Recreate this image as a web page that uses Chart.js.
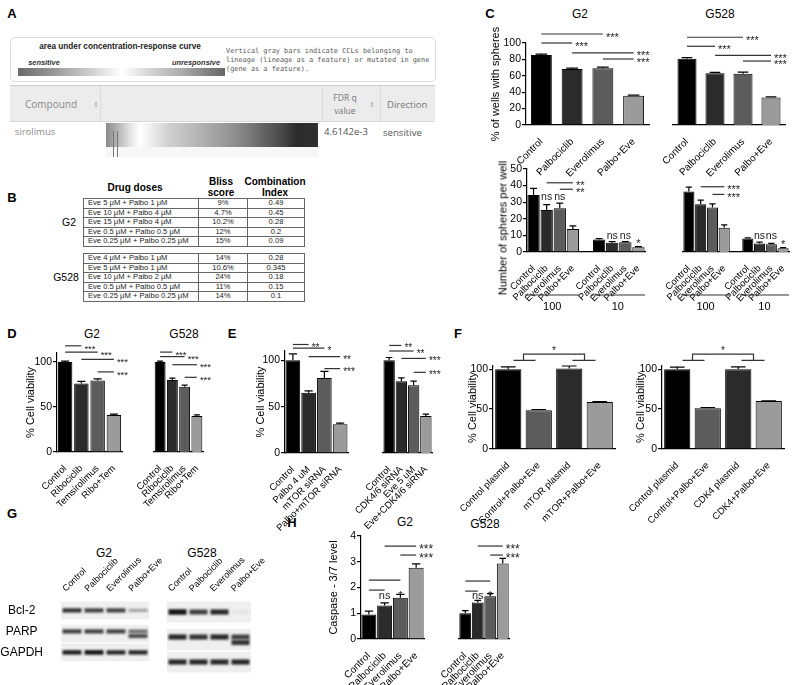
<!DOCTYPE html>
<html><head><meta charset="utf-8">
<script src="https://cdn.jsdelivr.net/npm/chart.js@4.4.1/dist/chart.umd.min.js"></script>
<style>
body{margin:0;background:#fff;width:800px;height:685px;overflow:hidden;position:relative;font-family:'Liberation Sans',Arial,Helvetica,sans-serif;color:#000}
.t{position:absolute;transform:translate(-50%,-50%);white-space:nowrap;line-height:1}
.abs{position:absolute}
.bt{position:absolute;left:83px;border-collapse:collapse;table-layout:fixed;width:222px;font-size:7.6px;color:#222}
.bt td{border:1px solid #666;height:8.6px;line-height:8.6px;padding:0;text-align:center;white-space:nowrap;overflow:hidden}
.bt td.l{text-align:left;padding-left:4px}
canvas{position:absolute}
</style></head><body>
<script>
// ---------------- DATA ----------------
// Panel A
const compoundName = 'sirolimus';
const fdrValue = '4.6142e-3';
const directionValue = 'sensitive';
// Panel B
const bG2Doses = ['Eve 5 μM + Palbo 1 μM','Eve 10 μM + Palbo 4 μM','Eve 15 μM + Palbo 4 μM','Eve 0.5 μM + Palbo 0.5 μM','Eve 0.25 μM + Palbo 0.25 μM'];
const bG2Bliss = ['9%','4.7%','10.2%','12%','15%'];
const bG2CI = ['0.49','0.45','0.28','0.2','0.09'];
const bG528Doses = ['Eve 4 μM + Palbo 1 μM','Eve 5 μM + Palbo 1 μM','Eve 10 μM + Palbo 2 μM','Eve 0.5 μM + Palbo 0.5 μM','Eve 0.25 μM + Palbo 0.25 μM'];
const bG528Bliss = ['14%','10.6%','24%','11%','14%'];
const bG528CI = ['0.28','0.345','0.18','0.15','0.1'];
// Panel C
const drugCats = ['Control','Palbociclib','Everolimus','Palbo+Eve'];
const cTopG2 = [85.4, 68.3, 69.3, 35.6];
const cTopG2Err = [1.0, 1.0, 1.4, 0.9];
const cTopG528 = [80.8, 63.2, 62.4, 33.6];
const cTopG528Err = [1.4, 1.0, 2.2, 0.8];
const cLowCats = ['Control','Palbociclib','Everolimus','Palbo+Eve','','Control','Palbociclib','Everolimus','Palbo+Eve'];
const cLowG2 = [34.3, 25.3, 26.3, 13.9, null, 7.6, 5.6, 5.8, 2.8];
const cLowG2Err = [4.0, 3.2, 3.2, 1.8, null, 0.5, 0.6, 0.4, 0.4];
const cLowG528 = [36.4, 28.8, 26.8, 14.6, null, 8.1, 5.1, 4.7, 2.2];
const cLowG528Err = [2.7, 2.4, 2.2, 1.8, null, 0.4, 0.9, 0.5, 0.4];
const sphereGroups = ['100','10'];
// Panel D
const dCats = ['Control','Ribociclib','Temsirolimus','Ribo+Tem'];
const dG2 = [100, 76, 79.5, 41];
const dG2Err = [1, 2.5, 1.8, 1];
const dG528 = [100, 80, 72.5, 40];
const dG528Err = [1, 2, 1.8, 1.3];
// Panel E
const eCats1 = ['Control','Palbo 4 uM','mTOR siRNA','Palbo+mTOR siRNA'];
const eVals1 = [100, 65, 81, 31];
const eErr1 = [7, 2, 7, 1.2];
const eCats2 = ['Control','CDK4/6 siRNA','Eve 5 uM','Eve+CDK4/6 siRNA'];
const eVals2 = [100, 77.5, 73, 40];
const eErr2 = [3, 3.5, 4.5, 2];
// Panel F
const fCats1 = ['Control plasmid','Control+Palbo+Eve','mTOR plasmid','mTOR+Palbo+Eve'];
const fVals1 = [100, 48.5, 101, 59];
const fErr1 = [3, 1, 3, 0.5];
const fCats2 = ['Control plasmid','Control+Palbo+Eve','CDK4 plasmid','CDK4+Palbo+Eve'];
const fVals2 = [100, 51, 100, 60];
const fErr2 = [2.5, 1, 3, 0.3];
// Panel G (band intensities, 0..1)
const blotRows = ['Bcl-2','PARP','GAPDH'];
const bcl2G2 = [0.85, 0.8, 0.8, 0.35];
const bcl2G528 = [1.0, 0.8, 0.9, 0.05];
const parpG2 = [0.8, 0.8, 0.8, 0.6];
const parpG528 = [0.9, 0.85, 0.9, 0.8];
const cleavedG2 = [0, 0, 0, 0.75];
const cleavedG528 = [0, 0, 0, 0.85];
const gapdhG2 = [0.95, 1, 0.9, 0.9];
const gapdhG528 = [0.9, 0.9, 0.9, 0.9];
// Panel H
const hG2 = [0.95, 1.3, 1.6, 2.77];
const hG2Err = [0.13, 0.1, 0.13, 0.15];
const hG528 = [1.0, 1.42, 1.66, 2.93];
const hG528Err = [0.1, 0.08, 0.1, 0.2];

// ---------------- HELPERS ----------------
const FF = "'Liberation Sans', Arial, Helvetica, sans-serif";
Chart.defaults.font.family = FF;
Chart.defaults.color = '#000';
Chart.defaults.animation = false;

const K0 = '#000000', K1 = '#2b2b2b', K2 = '#5c5c5c', K3 = '#9b9b9b';
const EXL = 70;

function T(x, y, s, css) {
  const d = document.createElement('div');
  d.className = 't'; d.textContent = s;
  d.style.left = x + 'px'; d.style.top = y + 'px';
  if (css) d.style.cssText += css;
  document.body.appendChild(d); return d;
}
function box(css, html) {
  const d = document.createElement('div'); d.className = 'abs'; d.style.cssText = css;
  if (html) d.innerHTML = html; document.body.appendChild(d); return d;
}
function canvasAt(L, Tp, W, H) {
  const cv = document.createElement('canvas');
  cv.width = W; cv.height = H;
  cv.style.left = L + 'px'; cv.style.top = Tp + 'px';
  cv.style.width = W + 'px'; cv.style.height = H + 'px';
  document.body.appendChild(cv); return cv;
}

const errPlugin = {
  id: 'err',
  afterDatasetsDraw(chart) {
    const ctx = chart.ctx, ys = chart.scales.y;
    chart.data.datasets.forEach((ds, di) => {
      if (!ds.errs) return;
      const meta = chart.getDatasetMeta(di);
      meta.data.forEach((bar, i) => {
        const v = ds.data[i], e = ds.errs[i];
        if (v == null || e == null) return;
        const yt = ys.getPixelForValue(v + e), yb = ys.getPixelForValue(v);
        const hw = bar.width * 0.28;
        ctx.save(); ctx.strokeStyle = '#000'; ctx.lineWidth = 1.2; ctx.beginPath();
        ctx.moveTo(bar.x, yb); ctx.lineTo(bar.x, yt);
        ctx.moveTo(bar.x - hw, yt); ctx.lineTo(bar.x + hw, yt);
        ctx.stroke(); ctx.restore();
      });
    });
  }
};

function txtOff(t, size) { return size * (t.indexOf('*') >= 0 ? 0.6 : 0.28); }

function sigPlugin(lines, texts, size) {
  return {
    id: 'sig',
    afterDraw(chart) {
      const ctx = chart.ctx, xs = chart.scales.x, ys = chart.scales.y;
      ctx.save(); ctx.strokeStyle = '#333'; ctx.lineWidth = 1.2; ctx.fillStyle = '#222';
      ctx.textBaseline = 'alphabetic';
      lines.forEach(([a, b, v, t]) => {
        const xa = xs.getPixelForValue(a), xb = xs.getPixelForValue(b), y = ys.getPixelForValue(v);
        ctx.beginPath(); ctx.moveTo(xa, y); ctx.lineTo(xb, y); ctx.stroke();
        if (t) { ctx.font = size + 'px ' + FF; ctx.textAlign = 'left'; ctx.fillText(t, xb + 3, y + txtOff(t, size)); }
      });
      (texts || []).forEach(([i, v, t, s]) => {
        const sz = s || size;
        ctx.font = sz + 'px ' + FF; ctx.textAlign = 'center';
        ctx.fillText(t, xs.getPixelForValue(i), ys.getPixelForValue(v) + txtOff(t, sz));
      });
      ctx.restore();
    }
  };
}

function groupsPlugin(groups) {
  return {
    id: 'grp',
    afterDraw(chart) {
      const ctx = chart.ctx, xs = chart.scales.x, ca = chart.chartArea;
      const w = xs.getPixelForValue(1) - xs.getPixelForValue(0);
      ctx.save(); ctx.strokeStyle = '#333'; ctx.lineWidth = 1.2; ctx.fillStyle = '#000';
      ctx.font = '11px ' + FF; ctx.textAlign = 'center'; ctx.textBaseline = 'middle';
      groups.forEach(([a, b, t]) => {
        const xa = xs.getPixelForValue(a) - w / 2 - 2, xb = xs.getPixelForValue(b) + w / 2;
        const y = ca.bottom + 43;
        ctx.beginPath(); ctx.moveTo(xa, y); ctx.lineTo(xb, y); ctx.stroke();
        ctx.fillText(t, (xa + xb) / 2, y + 12);
      });
      ctx.restore();
    }
  };
}

function bracketPlugin(vLow, vHigh, vStar, label) {
  return {
    id: 'brk',
    afterDraw(chart) {
      const ctx = chart.ctx, xs = chart.scales.x, ys = chart.scales.y;
      const m1 = (xs.getPixelForValue(0) + xs.getPixelForValue(1)) / 2;
      const m2 = (xs.getPixelForValue(2) + xs.getPixelForValue(3)) / 2;
      const yl = ys.getPixelForValue(vLow), yh = ys.getPixelForValue(vHigh), yS = ys.getPixelForValue(vStar);
      ctx.save(); ctx.strokeStyle = '#333'; ctx.lineWidth = 1.2; ctx.beginPath();
      ctx.moveTo(m1 - 10, yl); ctx.lineTo(m1 + 12, yl);
      ctx.moveTo(m2 - 12, yl); ctx.lineTo(m2 + 11, yl);
      ctx.moveTo(m1, yl); ctx.lineTo(m1, yh); ctx.lineTo(m2, yh); ctx.lineTo(m2, yl);
      ctx.stroke();
      ctx.fillStyle = '#222'; ctx.font = '10px ' + FF; ctx.textAlign = 'center';
      ctx.fillText(label, (m1 + m2) / 2, yS + txtOff(label, 10));
      ctx.restore();
    }
  };
}

function bars(o) {
  const [x0, y0, x1, y1] = o.plot, m = o.m;
  const L = Math.round(x0 - m.l) - EXL, Tp = Math.round(y0 - m.t);
  const W = Math.round(x1 - x0) + m.l + m.r + EXL, H = Math.round(y1 - y0) + m.t + m.b;
  const cv = canvasAt(L, Tp, W, H);
  return new Chart(cv, {
    type: 'bar',
    data: { labels: o.labels, datasets: [{ data: o.values, errs: o.errs, backgroundColor: o.colors,
      borderColor: '#000', borderWidth: 1, barPercentage: o.barPct, categoryPercentage: 1 }] },
    options: {
      responsive: false, maintainAspectRatio: false, animation: false, devicePixelRatio: 1,
      layout: { padding: { left: (o.showY ? 0 : m.l) + EXL, right: m.r, top: m.t, bottom: 0 } },
      scales: {
        x: {
          grid: { display: false }, border: { display: true, color: '#000', width: 1.2 },
          ticks: { autoSkip: false, minRotation: 45, maxRotation: 45, padding: 3, font: { size: o.xFont || 10 }, color: '#000' },
          afterFit: s => { s.height = m.b; }
        },
        y: {
          display: !!o.showY, min: 0, max: o.yMax,
          grid: { display: true, drawOnChartArea: false, drawTicks: true, tickLength: 4, color: '#000', lineWidth: 1.2 },
          border: { display: true, color: '#000', width: 1.2 },
          ticks: { stepSize: o.yStep, includeBounds: false, font: { size: 10.5 }, color: '#000', padding: 1 },
          title: { display: !!o.yTitle, text: o.yTitle || '', font: { size: 11 }, padding: { top: 0, bottom: 0 }, color: '#000' },
          afterFit: s => { s.width = m.l; }
        }
      },
      plugins: { legend: { display: false }, tooltip: { enabled: false } }
    },
    plugins: [errPlugin].concat(o.plugins || [])
  });
}

function blot(o) {
  const [x0, y0, x1, y1] = o.plot, m = o.m;
  const L = Math.round(x0 - m.l), Tp = Math.round(y0 - m.t);
  const W = Math.round(x1 - x0) + m.l + m.r, H = Math.round(y1 - y0) + m.t + m.b;
  const cv = canvasAt(L, Tp, W, H);
  const rowPos = [0, 1, 1.22, 2];
  const sets = [o.bcl2, o.parp, o.cleaved, o.gapdh].map((arr, k) => ({
    data: arr.map(a => a > 0 ? [rowPos[k] - (0.06 + 0.05 * a), rowPos[k] + (0.06 + 0.05 * a)] : null),
    backgroundColor: arr.map(a => 'rgba(20,20,20,' + Math.min(1, a) + ')'),
    borderWidth: 0, grouped: false, barPercentage: 0.86, categoryPercentage: 1
  }));
  const bgPlugin = {
    id: 'blotbg',
    beforeDatasetsDraw(chart) {
      const ctx = chart.ctx, ca = chart.chartArea, ys = chart.scales.y;
      ctx.save(); ctx.fillStyle = '#efefef';
      [0, 1.1, 2].forEach(r => {
        const a = ys.getPixelForValue(r - 0.42), b = ys.getPixelForValue(r + 0.42);
        ctx.fillRect(ca.left, a, ca.right - ca.left, b - a);
      });
      ctx.restore();
      ctx.save(); ctx.filter = 'blur(0.9px)';
    },
    afterDatasetsDraw(chart) { chart.ctx.restore(); }
  };
  return new Chart(cv, {
    type: 'bar',
    data: { labels: o.lanes, datasets: sets },
    options: {
      responsive: false, maintainAspectRatio: false, animation: false, devicePixelRatio: 1,
      layout: { padding: { left: o.showY ? 0 : m.l, right: m.r, top: 0, bottom: m.b } },
      scales: {
        x: {
          position: 'top', grid: { display: false }, border: { display: false },
          ticks: { autoSkip: false, minRotation: 45, maxRotation: 45, padding: 0, font: { size: 9 }, color: '#000' },
          afterFit: s => { s.height = m.t; }
        },
        y: {
          display: !!o.showY, min: -0.4, max: 2.4, reverse: true,
          grid: { display: false }, border: { display: false },
          ticks: { stepSize: 1, includeBounds: false, font: { size: 12 }, color: '#000', padding: 10, crossAlign: 'center',
            callback: v => (blotRows[v] !== undefined ? blotRows[v] : '') },
          afterFit: s => { s.width = m.l; }
        }
      },
      plugins: { legend: { display: false }, tooltip: { enabled: false } }
    },
    plugins: [bgPlugin]
  });
}

// ---------------- PANEL LETTERS & TITLES ----------------
const LET = 'font-weight:bold;font-size:13px;';
T(12, 13, 'A', LET); T(12, 197, 'B', LET); T(490, 13, 'C', LET);
T(12, 333, 'D', LET); T(232, 333, 'E', LET); T(458, 333, 'F', LET);
T(12, 513, 'G', LET); T(292, 522, 'H', LET);
const TT = 'font-size:12px;';
T(580, 14, 'G2', TT); T(720, 14, 'G528', TT);
T(92, 334, 'G2', TT); T(184, 334, 'G528', TT);
T(104, 553, 'G2', TT); T(202, 553, 'G528', TT);
T(405, 522, 'G2', TT); T(485, 524, 'G528', TT);

// ---------------- PANEL A ----------------
box('left:10px;top:37px;width:424px;height:43px;border:1px solid #dcdcdc;border-radius:5px;background:#fff;');
T(120, 47, 'area under concentration-response curve', 'font-size:8.2px;font-weight:bold;color:#222;');
T(44, 63, 'sensitive', 'font-size:7.4px;font-weight:bold;font-style:italic;color:#333;');
T(196, 63, 'unresponsive', 'font-size:7.4px;font-weight:bold;font-style:italic;color:#333;');
box('left:18px;top:68px;width:207px;height:8px;background:linear-gradient(90deg,#6a6a6a 0%,#9a9a9a 18%,#d8d8d8 38%,#fff 50%,#e0e0e0 60%,#a8a8a8 80%,#666 100%);');
box('left:226px;top:47px;width:210px;font-family:"DejaVu Sans Mono",monospace;font-size:6.9px;line-height:9px;color:#555;white-space:nowrap;overflow:hidden;',
  'Vertical gray bars indicate CCLs belonging to<br>lineage (lineage as a feature) or mutated in gene<br>(gene as a feature).');
const hdr = box('left:10px;top:85px;width:425px;height:35px;background:#ececec;border-top:1px solid #d0d0d0;border-bottom:1px solid #d8d8d8;overflow:hidden;font-family:"Open Sans",sans-serif;');
hdr.innerHTML =
  '<div class="abs" style="left:90px;top:0;width:1px;height:35px;background:#dadada"></div>' +
  '<div class="abs" style="left:312px;top:0;width:1px;height:35px;background:#dadada"></div>' +
  '<div class="abs" style="left:370px;top:0;width:1px;height:35px;background:#dadada"></div>' +
  '<div class="t" style="left:41px;top:18px;font-size:10px;color:#8a8a8a">Compound</div>' +
  '<div class="t" style="left:86px;top:18px;font-size:7px;color:#aaa">⇕</div>' +
  '<div class="t" style="left:335px;top:12px;font-size:8.6px;color:#777">FDR q</div>' +
  '<div class="t" style="left:335px;top:25px;font-size:8.6px;color:#777">value</div>' +
  '<div class="t" style="left:362px;top:18px;font-size:7px;color:#aaa">⇕</div>' +
  '<div class="abs" style="left:377px;top:12px;font-size:9.5px;color:#777;white-space:nowrap">Direction</div>';
T(35, 132, compoundName, 'font-size:9.5px;color:#8a8a8a;font-family:"Open Sans",sans-serif;');
box('left:106px;top:123px;width:212px;height:24px;background:linear-gradient(90deg,#8a8a8a 0%,#b0b0b0 5%,#e8e8e8 12%,#fff 16%,#f2f2f2 20%,#cfcfcf 30%,#bcbcbc 40%,#a6a6a6 50%,#909090 60%,#7a7a7a 68%,#5e5e5e 76%,#454545 84%,#2a2a2a 90%,#303030 100%);');
box('left:106px;top:147px;width:212px;height:10px;background:#f7f7f7;');
box('left:113px;top:131px;width:1px;height:26px;background:#777;');
box('left:117px;top:131px;width:1px;height:26px;background:#777;');
T(346, 132, fdrValue, 'font-size:9.6px;color:#555;font-family:"Open Sans",sans-serif;');
box('left:383px;top:126px;font-size:9.6px;color:#555;font-family:\'Open Sans\',sans-serif;white-space:nowrap;', directionValue);

// ---------------- PANEL B ----------------
const HB = 'font-size:10px;font-weight:bold;';
T(135, 188, 'Drug doses', HB);
T(221, 182, 'Bliss', HB); T(221, 193, 'score', HB);
T(275, 182, 'Combination', HB); T(275, 193, 'Index', HB);
T(69, 222, 'G2', 'font-size:10.5px;'); T(66, 277, 'G528', 'font-size:10.5px;');
function makeTable(top, doses, bliss, ci) {
  const tb = document.createElement('table'); tb.className = 'bt'; tb.style.top = top + 'px';
  tb.innerHTML = '<colgroup><col style="width:115px"><col style="width:49px"><col style="width:57px"></colgroup>' +
    doses.map((d, i) => '<tr><td class="l">' + d + '</td><td>' + bliss[i] + '</td><td>' + ci[i] + '</td></tr>').join('');
  document.body.appendChild(tb);
}
makeTable(198, bG2Doses, bG2Bliss, bG2CI);
makeTable(253, bG528Doses, bG528Bliss, bG528CI);

// ---------------- PANEL C ----------------
const q = [K0, K1, K2, K3];
bars({ plot: [526, 43, 649, 125], m: { l: 37, t: 22, r: 14, b: 62 }, labels: drugCats, values: cTopG2, errs: cTopG2Err,
  colors: q, yMax: 100, yStep: 20, yTitle: '% of wells with spheres', showY: true, barPct: 0.68, xFont: 10,
  plugins: [sigPlugin([[0, 2, 111, '***'], [0, 1, 100, '***'], [1, 3, 88, '***'], [2, 3, 80.5, '***']], [], 11)] });
bars({ plot: [661, 43, 785, 125], m: { l: 12, t: 22, r: 14, b: 62 }, labels: drugCats, values: cTopG528, errs: cTopG528Err,
  colors: q, yMax: 100, yStep: 20, showY: false, barPct: 0.68, xFont: 10,
  plugins: [sigPlugin([[0, 2, 107, '***'], [0, 1, 96, '***'], [1, 3, 85, '***'], [2, 3, 78, '***']], [], 11)] });
const q9 = [K0, K1, K2, K3, K0, K0, K1, K2, K3];
const grp = [[0, 3, sphereGroups[0]], [5, 8, sphereGroups[1]]];
bars({ plot: [527, 169, 645, 252], m: { l: 30, t: 18, r: 12, b: 75 }, labels: cLowCats, values: cLowG2, errs: cLowG2Err,
  colors: q9, yMax: 50, yStep: 10, showY: true, barPct: 0.94, xFont: 9.5,
  plugins: [sigPlugin([[1, 3, 41.7, '**'], [2, 3, 37.8, '**']],
    [[1, 33.3, 'ns', 10.5], [2, 33.3, 'ns', 10.5], [6, 9.6, 'ns', 10.5], [7, 9.6, 'ns', 10.5], [8, 7.0, '*', 11]], 11), groupsPlugin(grp)] });
bars({ plot: [671, 169, 789, 252], m: { l: 12, t: 18, r: 10, b: 75 }, labels: cLowCats, values: cLowG528, errs: cLowG528Err,
  colors: q9, yMax: 50, yStep: 10, showY: false, barPct: 0.94, xFont: 9.5,
  plugins: [sigPlugin([[1, 3, 39.3, '***'], [2, 3, 34.7, '***']],
    [[6, 9.6, 'ns', 10.5], [7, 9.6, 'ns', 10.5], [8, 6.3, '*', 11]], 11), groupsPlugin(grp)] });
T(503, 228, 'Number of spheres per well', 'font-size:11px;transform:translate(-50%,-50%) rotate(-90deg);');

// ---------------- PANEL D ----------------
bars({ plot: [57, 353, 122, 452], m: { l: 33, t: 14, r: 18, b: 65 }, labels: dCats, values: dG2, errs: dG2Err,
  colors: q, yMax: 110, yStep: 50, yTitle: '% Cell viability', showY: true, barPct: 0.89, xFont: 9.5,
  plugins: [sigPlugin([[0, 1, 118, '***'], [0, 2, 111, '***'], [1, 3, 103, '***'], [2, 3, 89, '***']], [], 9.5)] });
bars({ plot: [140, 353, 203, 452], m: { l: 14, t: 14, r: 18, b: 65 }, labels: dCats, values: dG528, errs: dG528Err,
  colors: q, yMax: 110, yStep: 50, showY: false, barPct: 0.89, xFont: 9.5,
  plugins: [sigPlugin([[0, 1, 111, '***'], [0, 2, 106, '***'], [1, 3, 97, '***'], [2, 3, 83, '***']], [], 9.5)] });

// ---------------- PANEL E ----------------
bars({ plot: [285, 351, 348, 453], m: { l: 31, t: 12, r: 18, b: 85 }, labels: eCats1, values: eVals1, errs: eErr1,
  colors: q, yMax: 110, yStep: 50, yTitle: '% Cell viability', showY: true, barPct: 0.93, xFont: 9.5,
  plugins: [sigPlugin([[0, 1, 117, '**'], [0, 2, 113, '*'], [1, 3, 104, '**'], [2, 3, 91, '***']], [], 10)] });
bars({ plot: [369, 351, 432, 453], m: { l: 14, t: 12, r: 20, b: 85 }, labels: eCats2, values: eVals2, errs: eErr2,
  colors: q, yMax: 110, yStep: 50, showY: false, barPct: 0.93, xFont: 9.5,
  plugins: [sigPlugin([[0, 1, 116, '**'], [0, 2, 110, '**'], [1, 3, 102, '***'], [2, 3, 87, '***']], [], 10)] });

// ---------------- PANEL F ----------------
const qf = [K0, K2, K1, K3];
bars({ plot: [493, 366, 615, 449], m: { l: 27, t: 24, r: 8, b: 85 }, labels: fCats1, values: fVals1, errs: fErr1,
  colors: qf, yMax: 104, yStep: 50, yTitle: '% Cell viability', showY: true, barPct: 0.86, xFont: 9.5,
  plugins: [bracketPlugin(111, 119, 127, '*')] });
bars({ plot: [662, 366, 784, 449], m: { l: 28, t: 24, r: 10, b: 85 }, labels: fCats2, values: fVals2, errs: fErr2,
  colors: qf, yMax: 104, yStep: 50, yTitle: '% Cell viability', showY: true, barPct: 0.86, xFont: 9.5,
  plugins: [bracketPlugin(111, 119, 127, '*')] });

// ---------------- PANEL G ----------------
blot({ plot: [61, 602, 149, 672], m: { l: 61, t: 50, r: 40, b: 6 }, lanes: drugCats, showY: true,
  bcl2: bcl2G2, parp: parpG2, cleaved: cleavedG2, gapdh: gapdhG2 });
blot({ plot: [159, 602, 251, 672], m: { l: 8, t: 50, r: 45, b: 6 }, lanes: drugCats, showY: false,
  bcl2: bcl2G528, parp: parpG528, cleaved: cleavedG528, gapdh: gapdhG528 });

// ---------------- PANEL H ----------------
bars({ plot: [361, 536, 424, 639], m: { l: 34, t: 9, r: 18, b: 46 }, labels: drugCats, values: hG2, errs: hG2Err,
  colors: q, yMax: 4, yStep: 1, yTitle: 'Caspase - 3/7 level', showY: true, barPct: 0.95, xFont: 10,
  plugins: [sigPlugin([[1, 3, 3.61, '***'], [2, 3, 3.26, '***'], [0, 2, 2.29, ''], [0, 1, 1.9, '']],
    [[1, 1.67, 'ns', 11], [2, 1.8, '*', 11]], 12)] });
bars({ plot: [447, 536, 509, 639], m: { l: 12, t: 9, r: 20, b: 46 }, labels: drugCats, values: hG528, errs: hG528Err,
  colors: q, yMax: 4, yStep: 1, showY: false, barPct: 0.95, xFont: 10,
  plugins: [sigPlugin([[1, 3, 3.61, '***'], [2, 3, 3.26, '***'], [0, 2, 2.25, ''], [0, 1, 1.86, '']],
    [[1, 1.67, 'ns', 11], [2, 1.82, '*', 11]], 12)] });
</script>
</body></html>
